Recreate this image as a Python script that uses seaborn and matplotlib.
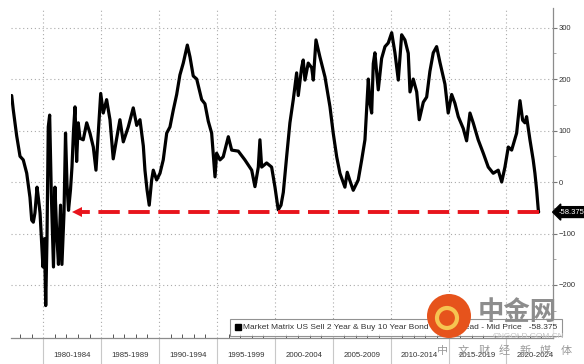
import numpy as np
import pandas as pd
import matplotlib
matplotlib.use("Agg")
import matplotlib.pyplot as plt
import seaborn as sns
from matplotlib.lines import Line2D
from matplotlib.patches import Ellipse

# ---------------- data ----------------
years = [1977.27, 1977.41, 1977.70, 1977.99, 1978.27, 1978.57, 1978.85, 1979.00, 1979.14, 1979.28,
         1979.46, 1979.57, 1979.72, 1979.86, 1979.97, 1980.10, 1980.21, 1980.32, 1980.43, 1980.55,
         1980.69, 1980.88, 1981.01, 1981.16, 1981.31, 1981.49, 1981.61, 1981.79, 1981.92, 1982.05,
         1982.18, 1982.35, 1982.48, 1982.61, 1982.74, 1982.88, 1983.02, 1983.17, 1983.45, 1983.75,
         1984.03, 1984.32, 1984.55, 1984.75, 1984.96, 1985.18, 1985.47, 1985.76, 1986.04, 1986.34,
         1986.62, 1986.91, 1987.34, 1987.77, 1988.07, 1988.35, 1988.64, 1988.78, 1988.96, 1989.15,
         1989.36, 1989.50, 1989.79, 1990.08, 1990.36, 1990.66, 1990.94, 1991.23, 1991.52, 1991.80,
         1992.09, 1992.44, 1992.67, 1992.95, 1993.25, 1993.68, 1993.96, 1994.25, 1994.54, 1994.83,
         1994.97, 1995.26, 1995.54, 1995.98, 1996.27, 1996.84, 1997.41, 1998.00, 1998.28, 1998.57,
         1998.71, 1998.86, 1999.29, 1999.72, 2000.01, 2000.29, 2000.53, 2000.73, 2001.02, 2001.30,
         2001.59, 2001.88, 2002.02, 2002.31, 2002.45, 2002.60, 2002.88, 2003.18, 2003.32, 2003.55,
         2003.89, 2004.33, 2004.76, 2005.04, 2005.34, 2005.62, 2006.05, 2006.25, 2006.49, 2006.77,
         2007.20, 2007.50, 2007.78, 2008.07, 2008.21, 2008.36, 2008.50, 2008.64, 2008.93, 2009.22,
         2009.51, 2009.79, 2010.09, 2010.37, 2010.66, 2010.95, 2011.23, 2011.52, 2011.67, 2011.95,
         2012.25, 2012.47, 2012.82, 2013.11, 2013.39, 2013.68, 2013.97, 2014.26, 2014.69, 2014.97,
         2015.27, 2015.55, 2015.84, 2016.27, 2016.56, 2016.85, 2017.13, 2017.56, 2018.00, 2018.43,
         2018.86, 2019.29, 2019.59, 2019.87, 2020.16, 2020.45, 2020.88, 2021.17, 2021.40, 2021.60,
         2021.74, 2022.03, 2022.31, 2022.46, 2022.61, 2022.75, 2022.78]
spread = [168, 140, 90, 50, 43, 17, -30, -74, -78, -60,
          -10, -30, -60, -120, -165, -110, -240, -110, 107, 130,
          -20, -165, -10, -100, -160, -45, -160, -60, 95, -5,
          -55, -15, 30, 100, 146, 40, 115, 85, 82, 115,
          95, 68, 23, 95, 172, 134, 160, 121, 45, 85,
          121, 78, 107, 144, 110, 121, 70, 23, -15, -45,
          4, 23, 4, 17, 43, 95, 107, 140, 170, 208,
          231, 266, 243, 206, 200, 160, 152, 118, 95, 10,
          56, 43, 49, 88, 62, 60, 43, 23, -9, 29,
          82, 29, 37, 29, -10, -54, -45, -20, 50, 115,
          160, 212, 168, 222, 237, 198, 231, 222, 198, 276,
          243, 204, 146, 95, 49, 17, -10, 19, 2, -16,
          4, 43, 82, 200, 153, 134, 230, 251, 179, 240,
          263, 270, 290, 251, 198, 286, 276, 250, 175, 200,
          175, 121, 155, 165, 215, 251, 263, 232, 190, 134,
          170, 153, 127, 104, 80, 134, 115, 82, 56, 29,
          17, 23, 0, 29, 68, 62, 95, 158, 120, 115,
          127, 82, 43, 17, -16, -54, -58.375]

period_starts = [1980, 1985, 1990, 1995, 2000, 2005, 2010, 2015, 2020]
period_labels = ["1980-1984", "1985-1989", "1990-1994", "1995-1999", "2000-2004",
                 "2005-2009", "2010-2014", "2015-2019", "2020-2024"]
y_ticks = [-200, -100, 0, 100, 200, 300]
series_name = "Market Matrix US Sell 2 Year & Buy 10 Year Bond Yield Spread - Mid Price"
last_value = spread[-1]
arrow_to_year = 1982.56

df = pd.DataFrame({"year": years, "spread": spread})

# ---------------- style ----------------
sns.set_theme(style="white")
plt.rcParams["font.family"] = ["Liberation Sans", "Noto Sans CJK SC", "DejaVu Sans"]

fig = plt.figure(figsize=(5.84, 3.64), dpi=100)
ax = fig.add_axes([0.0188, 0.0714, 0.9281, 0.9066])

sns.lineplot(data=df, x="year", y="spread", ax=ax, color="black", lw=2.3,
             estimator=None, sort=False, zorder=3)

ax.set_xlim(1977.21, 2024.02)
ax.set_ylim(-303, 338)
ax.set_xlabel("")
ax.set_ylabel("")

# spines
for s in ["top", "left"]:
    ax.spines[s].set_visible(False)
for s in ["right", "bottom"]:
    ax.spines[s].set_visible(True)
    ax.spines[s].set_color("#8c8c8c")
    ax.spines[s].set_linewidth(0.9)

# y axis on the right
ax.yaxis.tick_right()
ax.set_yticks(y_ticks)
ax.set_yticks(np.arange(-250, 340, 50), minor=True)
ax.tick_params(axis="y", which="major", direction="out", length=3, width=0.8,
               color="#777777", labelsize=5.5, labelcolor="#333333", pad=1.0,
               right=True, left=False)
ax.tick_params(axis="y", which="minor", direction="out", length=2, width=0.6,
               color="#999999", right=True, left=False)

# x axis: separators at period boundaries, yearly small ticks
ax.set_xticks(period_starts)
ax.set_xticklabels([])
ax.set_xticks(np.arange(1978, 2024, 1), minor=True)
ax.tick_params(axis="x", which="major", direction="out", length=19, width=0.8,
               color="#c8c8c8", bottom=True)
ax.tick_params(axis="x", which="minor", direction="in", length=3, width=0.7,
               color="#555555", bottom=True)

sec = ax.secondary_xaxis("bottom")
sec.set_xticks([p + 2.5 for p in period_starts])
sec.set_xticklabels(period_labels)
sec.tick_params(axis="x", length=0, labelsize=5.6, labelcolor="#333333", pad=10)
sec.spines["bottom"].set_visible(False)

# grid
ax.grid(True, which="major", axis="both", color="#aaaaaa", lw=0.8,
        linestyle=(0, (1, 2.5)))
ax.set_axisbelow(True)

# red dashed arrow at the current level
ax.plot([years[-1], arrow_to_year + 0.55], [last_value, last_value],
        color="#e8141c", lw=2.8, linestyle=(0, (5.5, 2.2)), zorder=4,
        solid_capstyle="butt", dash_capstyle="butt")
ax.plot([arrow_to_year + 0.35], [last_value], marker="<", markersize=6.5,
        color="#e8141c", markeredgewidth=0, zorder=4)

# last value tag
ax.annotate(f"{last_value:.3f}", xy=(1, last_value), xycoords=("axes fraction", "data"),
            xytext=(4.0, 0), textcoords="offset points", ha="left", va="center",
            fontsize=5.5, color="white",
            bbox=dict(boxstyle="larrow,pad=0.25", fc="black", ec="black"),
            annotation_clip=False, zorder=6)

# legend
handle = Line2D([], [], marker="s", color="black", linestyle="none", markersize=5)
leg = fig.legend([handle], [f"{series_name}   {last_value:.3f}"],
                 loc="lower left", bbox_to_anchor=(0.394, 0.078),
                 bbox_transform=fig.transFigure, fontsize=6.0, frameon=True,
                 handlelength=0.8, handletextpad=0.3, borderpad=0.5,
                 fancybox=False, borderaxespad=0)
leg.get_frame().set_edgecolor("#777777")
leg.get_frame().set_linewidth(0.8)
for t in leg.get_texts():
    t.set_color("#333333")

# watermark
fig.patches.append(Ellipse((449 / 584, 1 - 316 / 364), 44 / 584, 44 / 364,
                           transform=fig.transFigure, fc="#e6531c", ec="none",
                           zorder=10, figure=fig))
fig.patches.append(Ellipse((447 / 584, 1 - 318 / 364), 20 / 584, 20 / 364,
                           transform=fig.transFigure, fc="none", ec="#f6c451",
                           lw=3, zorder=11, figure=fig))
fig.text(517 / 584, 1 - 313 / 364, "中金网", fontsize=19, fontweight="bold",
         color="#8d8d8d", ha="center", va="center", zorder=12,
         family=["Noto Sans CJK SC", "DejaVu Sans"])
fig.text(528 / 584, 1 - 337 / 364, "CNGOLD.COM.CN", fontsize=6, color="#c4c4c4",
         ha="center", va="center", zorder=12)
for i, ch in enumerate("中文财经新媒体"):
    fig.text((443 + i * 20.5) / 584, 1 - 351 / 364, ch, fontsize=8, color="#9a9a9a",
             ha="center", va="center", zorder=12,
             family=["Noto Sans CJK SC", "DejaVu Sans"])

fig.savefig("out.png", dpi=100)
